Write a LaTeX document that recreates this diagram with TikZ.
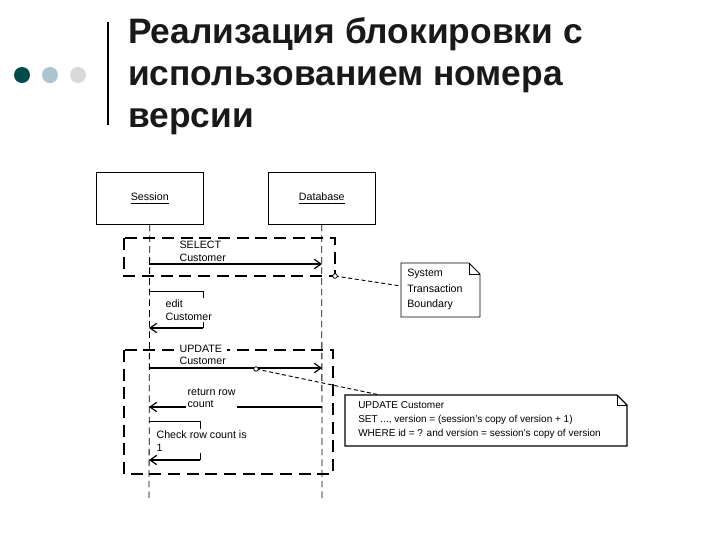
\documentclass[tikz,border=0pt]{standalone}
\usepackage{fontspec}
\setmainfont{Liberation Sans}
\usetikzlibrary{arrows.meta}
\definecolor{ttl}{RGB}{25,25,25}
\tikzset{
 lbl/.style={font=\fontsize{8}{9.5}\selectfont, anchor=west, inner sep=0pt, align=left},
 obj/.style={draw, line width=0.6pt},
 life/.style={draw, dash pattern=on 5pt off 3pt, line width=0.6pt},
 tbox/.style={draw, dash pattern=on 9pt off 5pt, line width=1pt},
 msg/.style={draw, line width=0.9pt, -{Straight Barb[length=5pt,width=7pt]}},
 ann/.style={draw, dash pattern=on 3pt off 2pt, line width=0.7pt},
}
\begin{document}
\begin{tikzpicture}[x=0.75pt,y=-0.75pt]
\useasboundingbox (0,0) rectangle (720,540);
% header
\fill[teal!60!black] (22,75) circle (8);
\fill[cyan!30!gray!60] (50,75) circle (8);
\fill[gray!30] (78,75) circle (8);
\draw[line width=1.5pt] (108,22) -- (108,125);
\node[anchor=north west, inner sep=0pt, align=left, text=ttl, font=\fontsize{26.5}{31.5}\selectfont\bfseries] (title) at (128,17) {Реализация блокировки с\\использованием номера\\версии};
% objects
\node[obj, minimum width=80pt, minimum height=39pt, anchor=north west, inner sep=0pt] (ses) at (96,172) {};
\node[font=\fontsize{8}{9.5}\selectfont] (sesl) at (ses.center) {\underline{Session}};
\node[obj, minimum width=80pt, minimum height=39pt, anchor=north west, inner sep=0pt] (db) at (268,172) {};
\node[font=\fontsize{8}{9.5}\selectfont] (dbl) at (db.center) {\underline{Database}};
\coordinate (sesE) at (149,502);
\coordinate (dbE) at (322,502);
\draw[life] (ses.south) -- (sesE);
\draw[life] (db.south) -- (dbE);
% transaction boxes
\draw[tbox] (124,238) rectangle (335,276);
\draw[tbox] (124,350) rectangle (333,474);
% SELECT
\coordinate (s1) at (149,264); \coordinate (s2) at (322,264);
\draw[msg] (s1) -- (s2);
\node[lbl, fill=white, inner sep=1pt] (sel) at (178,251) {SELECT\\Customer};
% note 1
\coordinate (c1) at (335,276);
\draw[fill=white, line width=0.6pt] (401,263) -- (469,263) -- (480,274) -- (480,317) -- (401,317) -- cycle;
\draw[line width=0.6pt] (469,263) -- (469,274) -- (480,274);
\node[lbl, anchor=north west] (n1) at (407,269) {System\\[2pt]Transaction\\[2pt]Boundary};
\coordinate (n1a) at (401,286);
\draw[ann] (c1) -- (n1a);
\draw[line width=0.6pt, fill=white] (c1) circle (2.3);
% edit
\coordinate (e0) at (149,291); \coordinate (e1) at (203,291); \coordinate (e2) at (203,328); \coordinate (e3) at (149,328);
\draw[line width=0.5pt] (e0) -- (e1) -- (e2);
\draw[msg] (e2) -- (e3);
\node[lbl, fill=white, inner sep=1pt] (ed) at (164,310) {edit\\Customer};
% UPDATE
\coordinate (u1) at (149,368); \coordinate (u2) at (322,368);
\draw[msg] (u1) -- (u2);
\node[lbl, fill=white, inner sep=1pt] (up) at (178,355) {UPDATE\\Customer};
% note 2
\draw[fill=white, line width=0.8pt] (345,395) -- (617,395) -- (627,405) -- (627,446) -- (345,446) -- cycle;
\draw[line width=0.6pt] (617,395) -- (617,405) -- (627,405);
\node[lbl, anchor=north west, font=\fontsize{7.5}{9}\selectfont] (n2) at (358,401) {UPDATE Customer\\[1.5pt]SET ..., version = (session's copy of version + 1)\\[1.5pt]WHERE id = ? and version = session's copy of version};
\coordinate (c2) at (256,369); \coordinate (n2a) at (380,395);
\draw[ann] (c2) -- (n2a);
\draw[line width=0.6pt, fill=white] (c2) circle (2.3);
% return
\coordinate (r1) at (322,407); \coordinate (r2) at (149,407);
\draw[msg] (r1) -- (r2);
\node[lbl, fill=white, inner sep=1pt] (rt) at (186,398) {return row\\count};
% check
\coordinate (k0) at (149,421); \coordinate (k1) at (200,421); \coordinate (k2) at (200,460); \coordinate (k3) at (149,460);
\draw[line width=0.5pt] (k0) -- (k1) -- (k2);
\draw[msg] (k2) -- (k3);
\node[lbl, fill=white, inner sep=1pt] (ck) at (155,441) {Check row count is\\1};
\end{tikzpicture}
\end{document}
